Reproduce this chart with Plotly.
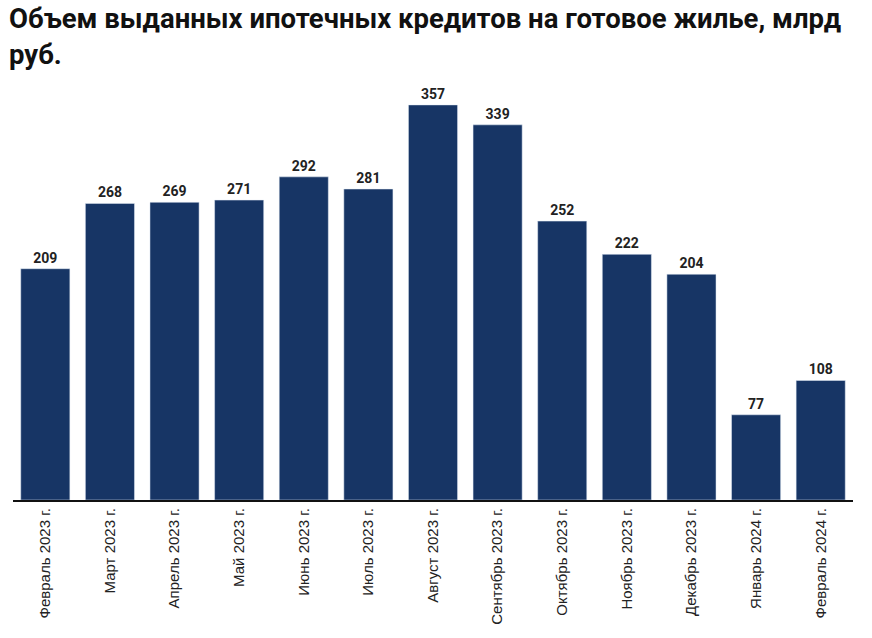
import plotly.graph_objects as go

categories = ["Февраль 2023 г.", "Март 2023 г.", "Апрель 2023 г.", "Май 2023 г.",
              "Июнь 2023 г.", "Июль 2023 г.", "Август 2023 г.", "Сентябрь 2023 г.",
              "Октябрь 2023 г.", "Ноябрь 2023 г.", "Декабрь 2023 г.", "Январь 2024 г.",
              "Февраль 2024 г."]
values = [209, 268, 269, 271, 292, 281, 357, 339, 252, 222, 204, 77, 108]
title_text = "Объем выданных ипотечных кредитов на готовое жилье, млрд<br>руб."

fig = go.Figure(go.Bar(
    x=categories, y=values,
    marker_color="#173565",
    text=[str(v) for v in values],
    textposition="outside",
    textfont=dict(family="Roboto", size=14, color="#222222", weight="bold"),
    cliponaxis=False,
    width=0.76,
))

fig.update_layout(
    width=872, height=638,
    paper_bgcolor="white", plot_bgcolor="white",
    margin=dict(l=13, r=19, t=85, b=138),
    showlegend=False,
    bargap=0.24,
    annotations=[dict(
        text="<b>" + title_text + "</b>",
        xref="paper", yref="paper", x=-0.007, y=1.205,
        xanchor="left", yanchor="top", align="left", showarrow=False,
        font=dict(family="Roboto", size=27.5, color="#111111"),
    )],
)
fig.update_xaxes(
    tickangle=-90,
    tickfont=dict(family="Arial", size=15, color="#222222"),
    showline=True, linecolor="#111111", linewidth=2,
    ticks="", showgrid=False,
)
fig.update_yaxes(range=[0, 375], visible=False, showgrid=False)

fig.write_html("out.html")
